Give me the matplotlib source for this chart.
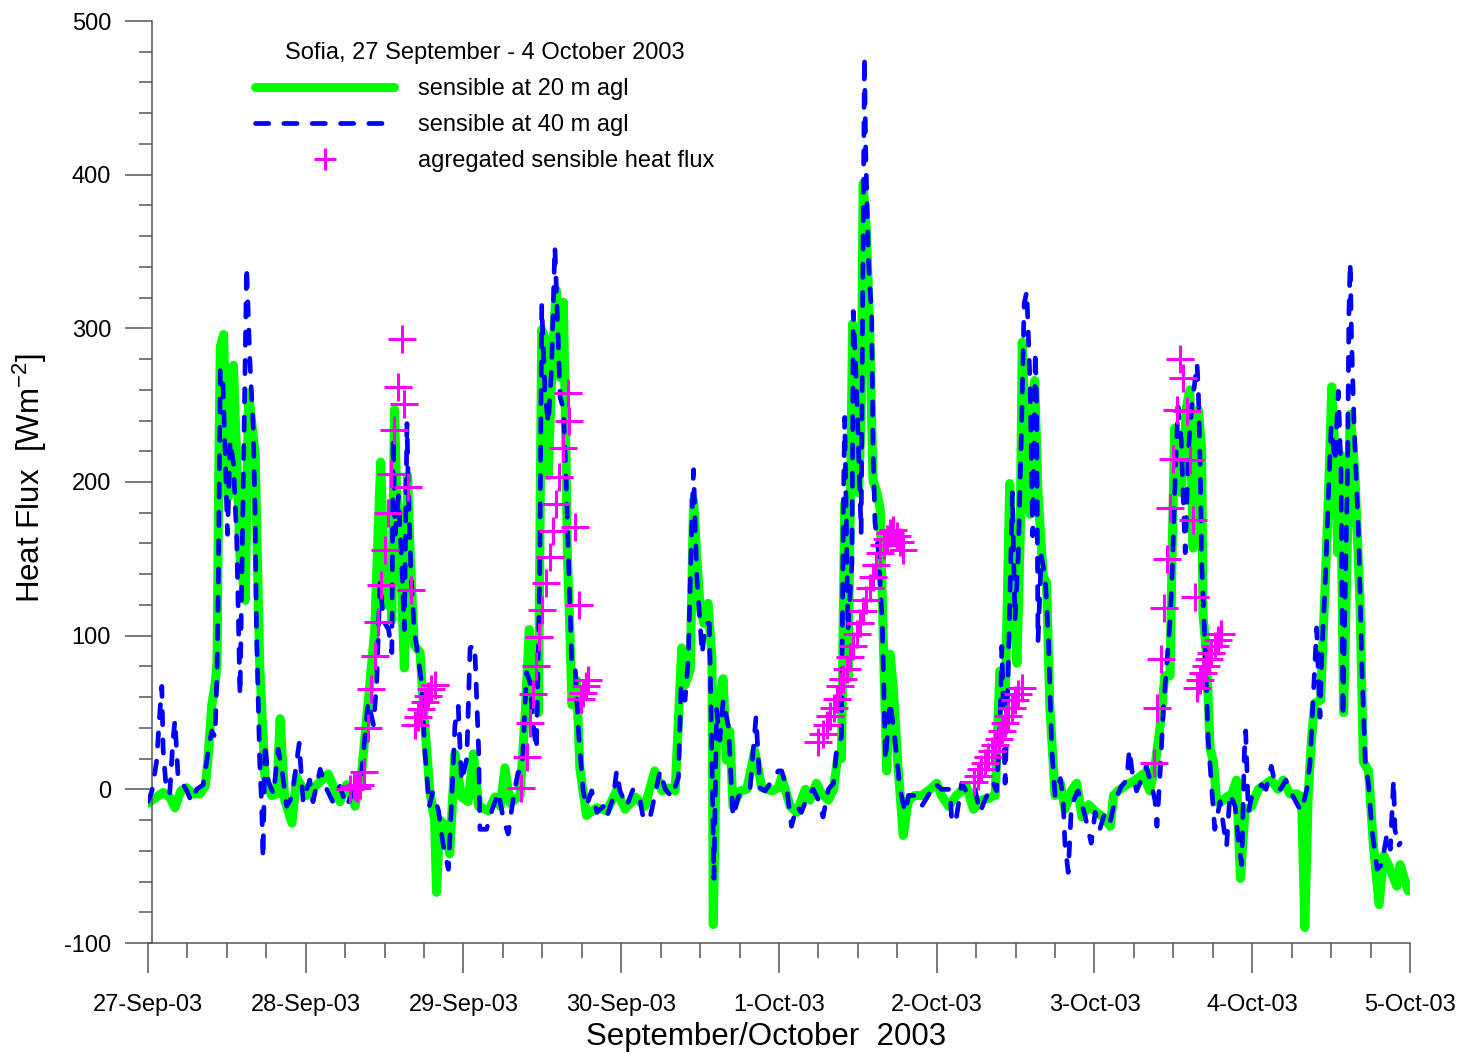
import numpy as np
import matplotlib
matplotlib.use("Agg")
import matplotlib.pyplot as plt
from matplotlib.ticker import MultipleLocator

plt.rcParams['font.family'] = ['Liberation Sans', 'DejaVu Sans']
plt.rcParams['mathtext.default'] = 'regular'
plt.rcParams['axes.unicode_minus'] = False

# ---------------- data (time in hours since 27-Sep-03 00:00) ----------------
t20 = [0.0, 1.0, 2.3, 3.3, 4.1, 5.0, 5.9, 6.8, 7.9, 8.7, 9.1, 9.7, 10.2, 10.5, 10.8, 11.0, 11.5, 12.2, 13.0, 14.0,
       14.8, 15.3, 16.3, 17.0, 17.8, 18.8, 19.6, 20.1, 20.8, 21.9, 22.6, 24.1, 25.7, 27.4, 29.2, 30.2, 31.5, 32.5,
       33.5, 34.5, 35.0, 35.4, 36.1, 36.6, 37.1, 37.5, 37.8, 38.3, 39.0, 39.5, 39.9, 40.5, 41.4, 41.9, 42.4, 42.9,
       43.6, 43.9, 44.4, 45.2, 45.9, 46.7, 47.7, 48.7, 49.5, 50.3, 51.8, 52.8, 53.6, 54.3, 55.1, 56.6, 57.4, 58.0,
       58.6, 59.4, 59.9, 60.4, 60.9, 61.4, 62.1, 62.7, 63.2, 63.6, 63.8, 64.1, 64.5, 65.2, 65.7, 66.7, 68.3, 69.8,
       71.3, 72.6, 74.1, 75.6, 77.1, 78.2, 79.2, 80.2, 81.2, 81.7, 82.5, 83.0, 83.5, 84.0, 84.6, 85.2, 85.8, 86.0,
       86.5, 87.0, 87.5, 88.0, 88.5, 89.0, 90.1, 91.1, 92.3, 93.4, 94.9, 95.9, 96.4, 97.7, 98.7, 100.0, 100.7,
       101.7, 102.5, 103.5, 104.3, 105.0, 105.5, 106.0, 106.5, 107.2, 107.6, 108.1, 108.5, 108.8, 109.3, 109.8,
       110.3, 110.9, 111.4, 111.9, 112.4, 112.9, 113.4, 114.1, 114.9, 115.7, 116.7, 117.7, 119.0, 120.0, 120.7,
       121.8, 123.0, 124.5, 125.6, 126.8, 127.8, 128.9, 129.6, 130.4, 131.1, 131.6, 132.2, 132.7, 133.0, 133.7,
       134.2, 134.9, 135.4, 136.2, 136.7, 137.2, 138.0, 138.8, 139.5, 140.5, 141.3, 142.1, 143.1, 144.3, 145.3,
       146.4, 146.9, 147.6, 148.9, 150.2, 151.4, 152.4, 153.2, 153.9, 154.7, 155.5, 155.8, 156.2, 156.7, 157.2,
       158.0, 158.5, 159.0, 159.3, 159.8, 160.3, 160.5, 161.0, 161.6, 162.1, 162.6, 163.4, 164.1, 164.9, 165.6,
       166.2, 166.9, 167.9, 168.9, 169.9, 170.9, 171.9, 172.7, 173.7, 174.8, 175.5, 176.0, 176.5, 177.0, 177.5,
       178.4, 179.1, 179.6, 180.1, 180.6, 181.0, 181.4, 181.6, 181.9, 182.4, 182.9, 183.6, 184.4, 184.9, 185.7,
       186.4, 187.3, 188.0, 188.7, 190.0, 190.5, 191.7]
f20 = [-9, -6, -2, -5, -12, -1, 1, -3, -3, 2, 18, 55, 68, 82, 220, 288, 296, 190, 276, 152,
       123, 258, 218, 80, 8, -4, -3, 46, -7, -22, 8, -4, 3, 10, -8, 3, -11, 11,
       57, 104, 166, 213, 120, 151, 110, 247, 197, 166, 79, 204, 151, 94, 89, 54, 26, -2,
       -20, -67, -20, -23, -42, 23, -5, -8, 23, -11, -14, -5, -11, 14, -9, -4, 50, 104,
       63, 50, 299, 294, 204, 268, 325, 268, 317, 217, 153, 114, 55, 71, 14, -17, -12, -14,
       -1, -13, -5, -11, 12, -1, 1, -1, 92, 68, 78, 188, 151, 118, 108, 121, 85, -88,
       35, 62, 72, 19, 38, -11, -1, 0, 25, 1, -1, 1, 8, -11, -15, 0, -7,
       4, -3, -7, 0, 23, 20, 186, 72, 303, 224, 193, 242, 394, 363, 299,
       201, 193, 182, 91, 12, 88, 65, 15, -30, -7, -4, -4, 0, 4, -4,
       -11, -4, 2, -13, -7, -6, -4, 77, 54, 199, 138, 82, 165, 291, 207,
       179, 266, 193, 138, 135, 54, -4, 4, -13, -1, 4, -18, -10, -15, -18,
       -24, -4, -1, 3, 6, 10, -1, 15, 38, 74, 74, 152, 235, 207, 193,
       249, 260, 157, 236, 247, 221, 114, 90, 26, 18, -8, -8, -5, -3, 6,
       -58, -14, -11, 0, 3, 6, 0, 6, -3, -3, -5, -90, -5, 32, 56,
       58, 134, 192, 262, 218, 154, 218, 154, 50, 148, 244, 207, 120, 18, 12,
       -35, -75, -43, -49, -63, -49, -66]

t40 = [0.0, 0.6, 1.3, 1.8, 2.1, 2.3, 2.8, 3.3, 3.8, 4.1, 4.6, 5.1, 5.9, 6.6, 7.4, 8.4, 9.2, 9.7, 10.2, 10.5,
       10.7, 11.0, 11.4, 11.7, 12.1, 12.5, 13.0, 13.5, 14.0, 14.5, 15.0, 15.5, 16.0, 16.3, 16.5, 17.0, 17.3,
       17.5, 17.8, 18.3, 19.1, 19.8, 20.3, 21.1, 21.9, 23.0, 23.6, 24.6, 25.1, 26.2, 27.2, 28.1, 29.2, 30.2,
       31.5, 32.5, 33.5, 34.3, 34.8, 35.3, 35.8, 36.6, 37.1, 37.3, 37.6, 38.1, 38.6, 39.0, 39.4, 39.6, 40.0,
       40.5, 41.1, 41.6, 42.1, 42.8, 43.3, 44.2, 44.9, 45.7, 46.2, 46.7, 47.2, 47.7, 48.5, 49.0, 49.7, 50.3,
       50.5, 51.5, 52.3, 53.3, 54.1, 54.8, 55.6, 56.3, 56.9, 57.6, 58.1, 58.6, 59.1, 59.6, 59.9, 60.4, 60.9,
       61.4, 61.9, 62.4, 62.7, 63.2, 63.7, 63.9, 64.5, 65.0, 65.5, 66.2, 66.7, 67.5, 68.3, 69.3, 69.8, 70.8,
       71.3, 71.8, 72.8, 73.8, 74.9, 75.4, 76.4, 77.9, 78.7, 79.7, 80.7, 81.1, 81.7, 82.2, 82.7, 83.0, 83.5,
       84.0, 84.3, 84.8, 85.4, 85.8, 86.1, 86.5, 87.0, 87.5, 88.3, 89.0, 89.8, 90.8, 91.6, 92.5, 93.1, 93.9,
       95.9, 96.4, 97.2, 97.9, 98.7, 99.4, 100.4, 101.2, 102.0, 102.7, 103.5, 104.3, 104.8, 105.5, 105.8,
       106.0, 106.5, 107.1, 107.3, 107.8, 108.3, 108.5, 108.7, 109.0, 109.2, 109.6, 110.1, 110.3, 110.6,
       111.1, 111.7, 112.2, 112.9, 113.6, 114.4, 115.2, 115.7, 116.7, 117.7, 118.7, 119.7, 120.7, 122.0,
       122.3, 123.0, 123.8, 124.8, 125.8, 126.6, 127.3, 128.6, 129.1, 129.6, 129.9, 130.4, 130.9, 131.5,
       131.9, 132.4, 132.9, 133.3, 133.7, 134.2, 134.6, 135.0, 135.2, 135.4, 135.9, 136.5, 136.7, 137.0,
       137.5, 138.0, 138.8, 139.2, 139.5, 140.0, 140.5, 141.5, 142.6, 143.5, 144.1, 144.8, 145.6, 146.4,
       147.1, 148.1, 148.9, 149.3, 149.7, 150.4, 151.2, 151.9, 152.7, 153.2, 153.5, 154.0, 154.5, 155.0,
       155.5, 155.8, 156.2, 156.7, 157.2, 157.8, 158.3, 158.8, 159.6, 159.8, 160.1, 160.3, 160.8, 161.3,
       161.8, 162.3, 163.1, 163.6, 164.1, 164.6, 165.4, 165.9, 166.4, 166.8, 167.0, 167.4, 167.9, 169.4,
       170.1, 170.9, 171.5, 172.3, 173.1, 174.0, 175.0, 175.5, 176.3, 176.8, 177.3, 177.8, 178.3, 178.6,
       179.1, 179.6, 180.0, 180.6, 181.1, 181.5, 181.8, 182.1, 182.5, 182.7, 182.9, 183.1, 183.5, 184.2,
       184.7, 185.2, 185.7, 186.2, 187.0, 187.7, 188.5, 189.0, 189.5, 189.7, 190.2, 190.5]
f40 = [-8, -1, 18, 50, 67, 26, -1, -3, 32, 45, 6, 5, -1, -8, 0, 3, 26, 38, 34, 76,
       134, 273, 265, 224, 166, 227, 212, 163, 61, 201, 340, 279, 236, 178, 105, 18, -11,
       -45, 30, 5, -3, 26, 15, -11, -5, 30, -8, 6, -8, 13, 0, -8, 2, -11,
       1, 11, 57, 42, 70, 135, 110, 104, 89, 229, 166, 191, 148, 104, 238, 197, 141,
       104, 86, 70, 26, -11, -2, -14, -36, -52, -8, 42, 54, 5, 20, 92, 94, 26,
       -26, -26, -14, -2, -20, -29, -5, 11, 12, 76, 70, 42, 26, 140, 315, 258, 238,
       274, 353, 294, 255, 248, 191, 160, 78, 78, 37, -1, -11, -1, -15, -11, -18, -5,
       12, -1, -11, 0, -8, -20, -18, 12, 0, -5, 8, 68, 58, 85, 168, 208, 138,
       108, 88, 108, 108, 19, -58, 52, 32, 58, 41, -18, -5, 1, 1, 47, 1, -1,
       12, 12, 0, -24, -11, -15, -4, 0, -7, -18, 0, 4, 27, 34, 186,
       242, 103, 148, 311, 261, 193, 167, 299, 477, 413, 345, 307, 224, 174,
       156, 110, 19, 57, 34, 0, -15, -4, -4, -11, -4, 4, 0, 0,
       -22, -18, 4, -4, 0, -15, -7, 4, -1, 40, 93, 4, 82, 193,
       110, 152, 235, 316, 324, 263, 165, 285, 249, 96, 152, 138, 122, 96,
       26, -4, 7, -4, -35, -54, -10, -1, -18, -35, -15, -26, -15, -21,
       -7, 2, 6, 26, 12, -1, 7, 15, 2, -7, -24, 12, 54, 82,
       110, 138, 193, 249, 227, 154, 221, 249, 277, 259, 207, 148, 96, 32,
       3, -26, -8, -23, -37, -3, -11, -35, -49, 24, 38, -15, -5, 3,
       0, 15, 3, 0, 6, -3, -11, -14, 0, 18, 62, 105, 47, 90,
       134, 192, 236, 213, 259, 207, 47, 120, 207, 308, 343, 294, 236, 163,
       76, 18, 3, -26, -52, -49, -29, -39, 6, -26, -37, -35]

tag = [30.8, 31.3, 31.8, 32.2, 32.8, 33.5, 34.0, 34.5, 35.0, 35.5, 36.1, 36.5, 37.0, 37.5, 38.1, 38.6, 39.0,
       39.5, 40.0, 40.6, 41.1, 41.6, 42.1, 42.6, 43.1, 43.6,
       56.8, 57.6, 58.1, 58.5, 59.0, 59.5, 60.0, 60.6, 61.1, 61.6, 62.1, 62.6, 63.1, 63.9, 64.1, 64.9, 65.5,
       65.9, 66.2, 66.6, 67.0,
       102.0, 102.7, 103.3, 103.8, 104.3, 104.8, 105.3, 105.8, 106.3, 106.8, 107.3, 107.8, 108.3, 108.8,
       109.3, 109.8, 110.3, 110.8, 111.3, 111.9, 112.4, 112.9, 113.4, 113.9, 114.4, 114.9,
       125.6, 126.2, 126.8, 127.3, 127.8, 128.4, 128.9, 129.4, 129.9, 130.4, 130.9, 131.4, 131.9, 132.4, 132.9,
       153.0, 153.5, 154.1, 154.6, 155.0, 155.5, 156.0, 156.6, 157.0, 157.5, 158.0, 158.6, 159.0, 159.3,
       159.6, 160.0, 160.5, 160.9, 161.4, 161.8, 162.3, 162.8, 163.3]
fag = [0, 2, 1, 3, 11, 40, 65, 87, 109, 133, 156, 180, 205, 234, 262, 293, 251,
       197, 130, 42, 47, 52, 57, 61, 65, 68,
       1, 21, 43, 62, 80, 99, 117, 134, 151, 168, 186, 203, 222, 258, 240, 171, 120,
       59, 63, 67, 71,
       31, 36, 42, 48, 53, 59, 67, 72, 78, 86, 93, 101, 108, 116,
       123, 131, 138, 146, 154, 159, 163, 167, 169, 165, 161, 156,
       5, 9, 13, 17, 21, 25, 29, 33, 38, 43, 48, 53, 58, 62, 66,
       17, 53, 85, 118, 150, 183, 215, 247, 280, 268, 246, 214, 175, 125,
       66, 71, 76, 80, 85, 89, 93, 97, 101]

day_ticks = [0, 24, 48, 72, 96, 120, 144, 168, 192]
day_labels = ['27-Sep-03', '28-Sep-03', '29-Sep-03', '30-Sep-03', '1-Oct-03',
              '2-Oct-03', '3-Oct-03', '4-Oct-03', '5-Oct-03']
y_ticks = [-100, 0, 100, 200, 300, 400, 500]

legend_title = 'Sofia, 27 September - 4 October 2003'
labels = ['sensible at 20 m agl', 'sensible at 40 m agl', 'agregated sensible heat flux']

# ---------------- figure ----------------
W, H = 1462, 1056
fig = plt.figure(figsize=(W / 100, H / 100), dpi=100)
ax = fig.add_axes([148 / W, 1 - 943 / H, 1262 / W, 922 / H])

l1, = ax.plot(t20, f20, color='#00FF00', lw=6.5, solid_capstyle='round', solid_joinstyle='round',
              label=labels[0], zorder=2)
l2, = ax.plot(t40, f40, color='#0000FF', lw=3.4, linestyle=(0, (2.8, 3.2)), dash_capstyle='round',
              label=labels[1], zorder=3)
l3, = ax.plot(tag, fag, linestyle='none', marker='+', markersize=20, markeredgewidth=2.2,
              color='#FF00FF', label=labels[2], zorder=4)

ax.set_xlim(0, 192)
ax.set_ylim(-100, 500)

for s in ['top', 'right']:
    ax.spines[s].set_visible(False)
ax.spines['left'].set_position(('data', 0.6))
for s in ['left', 'bottom']:
    ax.spines[s].set_color('#555555')
    ax.spines[s].set_linewidth(1.1)

ax.set_xticks(day_ticks)
ax.set_xticklabels(day_labels)
ax.xaxis.set_minor_locator(MultipleLocator(6))
ax.set_yticks(y_ticks)
ax.yaxis.set_minor_locator(MultipleLocator(20))

ax.tick_params(axis='x', which='major', length=21.6, width=1.1, color='#555555', pad=15, labelsize=17)
ax.tick_params(axis='x', which='minor', length=10.8, width=1.1, color='#555555')
ax.tick_params(axis='y', which='major', length=19.4, width=1.1, color='#555555', pad=10, labelsize=17)
ax.tick_params(axis='y', which='minor', length=9.4, width=1.1, color='#555555')

ax.set_xlabel('September/October  2003', fontsize=22.5)
ax.xaxis.set_label_coords((766 - 148) / 1262, (943 - 1037) / 922)
ax.xaxis.label.set_va('center')
ax.set_ylabel('Heat Flux  [Wm$^{-2}$]', fontsize=22.5)
ax.yaxis.set_label_coords((30 - 148) / 1262, (943 - 478) / 922)
ax.yaxis.label.set_va('center')

leg = ax.legend(handles=[l1, l2, l3], labels=labels, title=legend_title, frameon=False,
                loc='upper left', bbox_to_anchor=(255 / W, 1 - 42 / H), bbox_transform=fig.transFigure,
                fontsize=17, title_fontsize=17, handlelength=5.9, handletextpad=1.0,
                labelspacing=0.6, borderpad=0, borderaxespad=0, markerscale=0.78)

fig.savefig('out.png', dpi=100)
